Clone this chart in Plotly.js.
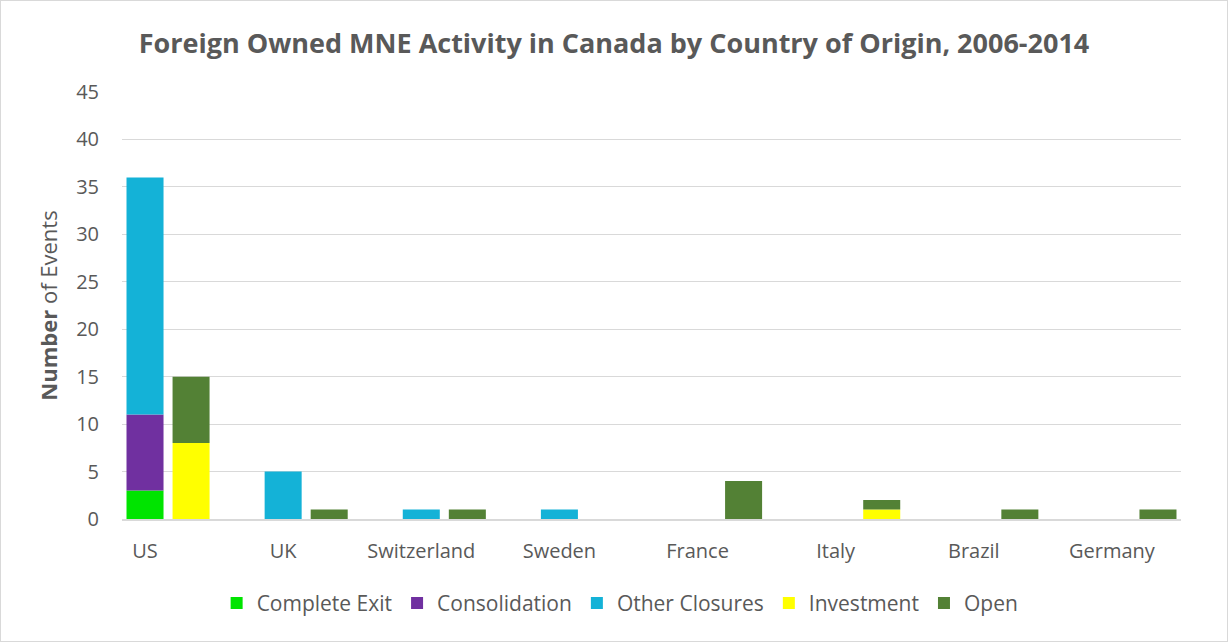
<!DOCTYPE html>
<html>
<head>
<meta charset="utf-8">
<script src="https://cdn.plot.ly/plotly-3.0.1.min.js"></script>
<style>
html,body{margin:0;padding:0;background:#fff;}
#chart{width:1228px;height:642px;box-sizing:border-box;border:1px solid #d9d9d9;}
</style>
</head>
<body>
<div id="chart"></div>
<script>
const countries = ["US", "UK", "Switzerland", "Sweden", "France", "Italy", "Brazil", "Germany"];
const completeExit = [3, 0, 0, 0, 0, 0, 0, 0];
const consolidation = [8, 0, 0, 0, 0, 0, 0, 0];
const otherClosures = [25, 5, 1, 1, 0, 0, 0, 0];
const investment = [8, 0, 0, 0, 0, 1, 0, 0];
const openings = [7, 1, 1, 0, 4, 1, 1, 1];
const yTicks = [0, 5, 10, 15, 20, 25, 30, 35, 40, 45];

const add = (a, b) => a.map((v, i) => v + b[i]);
const font = "Open Sans, sans-serif";
const barW = 0.268;
const closeOff = -barW / 2;
const openOff = 1 / 3 - barW / 2;

function bar(name, y, base, color, offset) {
  return {
    type: "bar", name: name, x: countries, y: y, base: base,
    width: barW, offset: offset,
    marker: {color: color, line: {width: 0}},
    hoverinfo: "x+y+name"
  };
}

const zeros = countries.map(() => 0);
const traces = [
  bar("Complete Exit", completeExit, zeros, "#00e400", closeOff),
  bar("Consolidation", consolidation, completeExit, "#7030a0", closeOff),
  bar("Other Closures", otherClosures, add(completeExit, consolidation), "#14b2d7", closeOff),
  bar("Investment", investment, zeros, "#ffff00", openOff),
  bar("Open", openings, investment, "#538135", openOff)
];

const layout = {
  width: 1226, height: 640,
  margin: {l: 121, r: 46, t: 91, b: 122},
  paper_bgcolor: "#ffffff", plot_bgcolor: "#ffffff",
  font: {family: font, color: "#595959"},
  barmode: "overlay",
  title: {text: "<b>Foreign Owned MNE Activity in Canada by Country of Origin, 2006-2014</b>",
          font: {family: font, size: 27, color: "#595959"},
          x: 0.5, xref: "container", xanchor: "center", y: 0.933, yref: "container", yanchor: "middle"},
  xaxis: {
    type: "category", range: [-1/6, 7.5], fixedrange: true,
    showgrid: false, zeroline: false,
    showline: true, linecolor: "#d9d9d9", linewidth: 1.5,
    ticks: "", tickfont: {family: font, size: 20, color: "#595959"},
    ticklabelstandoff: 13
  },
  yaxis: {
    range: [0, 45], tickvals: yTicks, ticktext: yTicks.map(String),
    showgrid: true, gridcolor: "#d9d9d9", gridwidth: 1.2,
    zeroline: false, showline: false, ticks: "",
    tickfont: {family: font, size: 20, color: "#595959"},
    ticklabelstandoff: 22,
    title: {text: "<b>Number</b> of Events", font: {family: font, size: 22, color: "#595959"}, standoff: 12}
  },
  showlegend: true,
  legend: {orientation: "h", x: 0.505, xref: "container", xanchor: "center", y: 0.059, yref: "container", yanchor: "middle",
           font: {family: font, size: 21, color: "#595959"}, traceorder: "normal", itemwidth: 30}
};

Plotly.newPlot("chart", traces, layout, {displayModeBar: false, staticPlot: true});
</script>
</body>
</html>
